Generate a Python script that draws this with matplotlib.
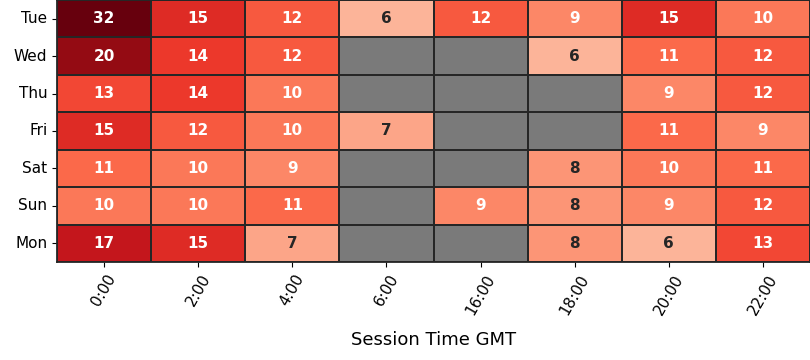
import numpy as np
import pandas as pd
import matplotlib
matplotlib.use("Agg")
import matplotlib.pyplot as plt
import seaborn as sns

days = ["Tue", "Wed", "Thu", "Fri", "Sat", "Sun", "Mon"]
hours = ["0:00", "2:00", "4:00", "6:00", "16:00", "18:00", "20:00", "22:00"]
nan = np.nan
tue = [32, 15, 12, 6, 12, 9, 15, 10]
wed = [20, 14, 12, nan, nan, 6, 11, 12]
thu = [13, 14, 10, nan, nan, nan, 9, 12]
fri = [15, 12, 10, 7, nan, nan, 11, 9]
sat = [11, 10, 9, nan, nan, 8, 10, 11]
sun = [10, 10, 11, nan, 9, 8, 9, 12]
mon = [17, 15, 7, nan, nan, 8, 6, 13]

df = pd.DataFrame([tue, wed, thu, fri, sat, sun, mon], index=days, columns=hours)

fig = plt.figure(figsize=(8.1, 3.6), dpi=100)
ax = fig.add_axes([57/810, 1 - 262/360, 1 - 57/810, 262/360])
ax.set_facecolor("#7a7a7a")
sns.heatmap(df, ax=ax, cmap="Reds", vmin=0, vmax=22, annot=True, fmt=".0f",
            annot_kws={"fontsize": 11, "fontweight": "bold"},
            linewidths=1.3, linecolor="#262626", cbar=False)
ax.set_xlabel("Session Time GMT", fontsize=13, labelpad=10)
ax.set_ylabel("")
ax.tick_params(axis="x", labelsize=11, rotation=60)
ax.tick_params(axis="y", labelsize=11, rotation=0)
for lab in ax.get_xticklabels():
    lab.set_ha("center")
for s in ax.spines.values():
    s.set_visible(True)
    s.set_color("#262626")
    s.set_linewidth(1.3)
fig.savefig("out.png", dpi=100)
